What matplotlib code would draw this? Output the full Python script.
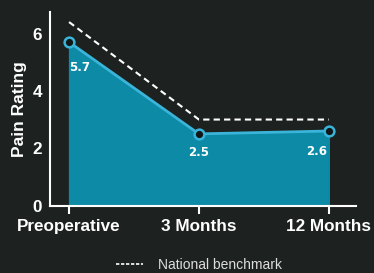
import matplotlib
matplotlib.use("Agg")
import matplotlib.pyplot as plt
from matplotlib.lines import Line2D

categories = ["Preoperative", "3 Months", "12 Months"]
pain = [5.7, 2.5, 2.6]
benchmark = [6.4, 3.0, 3.0]

bg = "#1d2221"
fill_col = "#0c8aa6"
line_col = "#3ab4d8"
sans = ["Liberation Sans", "DejaVu Sans"]

fig = plt.figure(figsize=(3.74, 2.73), dpi=100, facecolor=bg)
ax = fig.add_axes([0.134, 0.247, 0.818, 0.709])
ax.set_facecolor(bg)

x = list(range(len(categories)))
ax.fill_between(x, 0, pain, color=fill_col, zorder=1)
ax.plot(x, pain, color=line_col, lw=2, zorder=2)
ax.plot(x, pain, "o", ms=7, mfc="#111616", mec=line_col, mew=1.8, zorder=4)
ax.plot(x, benchmark, color="white", lw=1.5, ls=(0, (3, 2)), zorder=3)

# label offsets (dx, dy) from each point
offsets = [(0.08, -0.87), (0, -0.66), (-0.095, -0.7)]
for xi, v, (dx, dy) in zip(x, pain, offsets):
    ax.text(xi + dx, v + dy, f"{v:.1f}", color="white", fontsize=8.5,
            fontweight="bold", family="DejaVu Sans",
            ha="center", va="center", zorder=5)

ax.set_xlim(-0.146, 2.21)
ax.set_ylim(0, 6.75)
ax.set_xticks(x)
ax.set_xticklabels(categories)
ax.set_yticks([0, 2, 4, 6])
ax.set_ylabel("Pain Rating", color="white", fontsize=12.5, fontweight="bold",
              family=sans, labelpad=4)

for s in ["top", "right"]:
    ax.spines[s].set_visible(False)
for s in ["left", "bottom"]:
    ax.spines[s].set_color("white")
    ax.spines[s].set_linewidth(1.5)

ax.tick_params(axis="x", colors="white", length=6, width=1.5, labelsize=12.3, pad=4)
ax.tick_params(axis="y", colors="white", length=0, labelsize=12.3, pad=6)
for lbl in ax.get_xticklabels() + ax.get_yticklabels():
    lbl.set_fontweight("bold")
    lbl.set_family(sans)

handle = Line2D([], [], color="white", lw=1.2, ls=(0, (2, 1)))
fig.legend([handle], ["National benchmark"], loc="center", bbox_to_anchor=(0.532, 0.03),
           frameon=False, prop={"family": sans, "size": 10}, labelcolor="#dddddd",
           handlelength=1.9, handletextpad=1.1)

fig.savefig("out.png", facecolor=bg)
